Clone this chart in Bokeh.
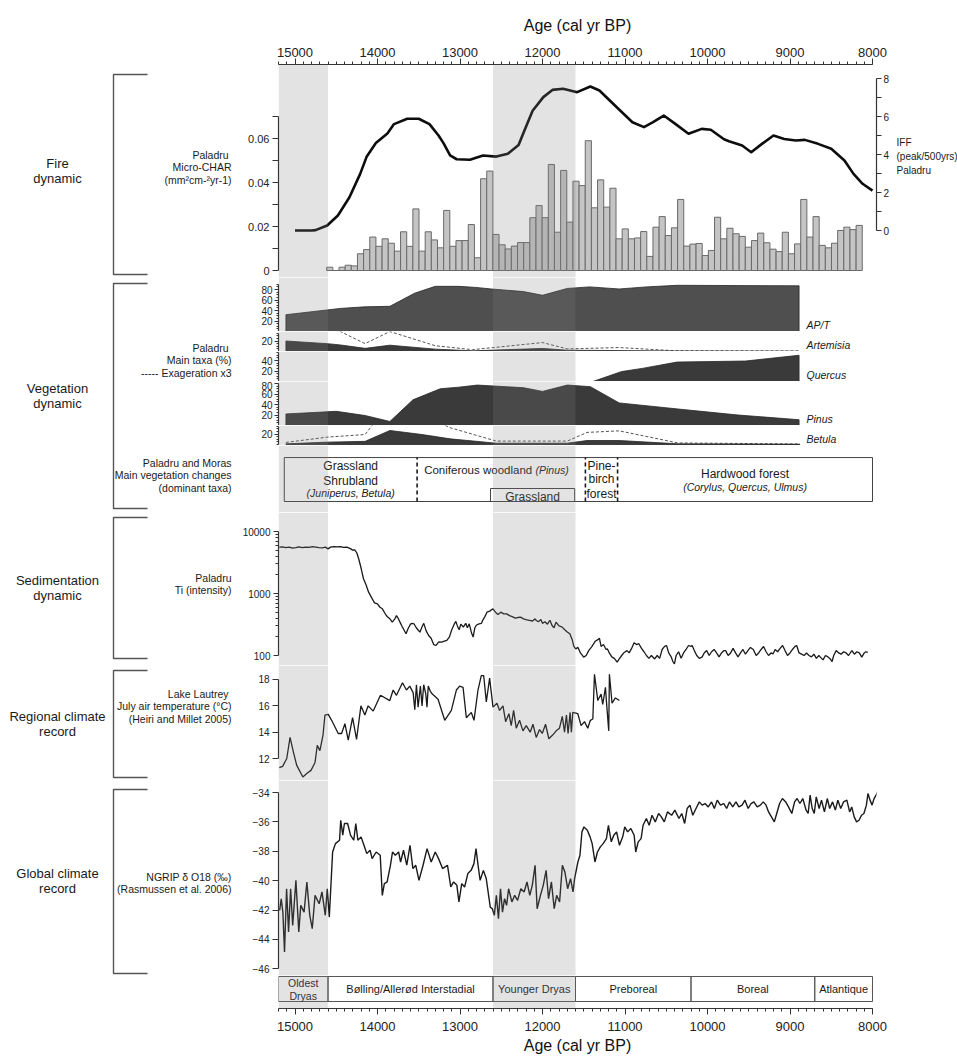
import numpy as np
from bokeh.plotting import figure
from bokeh.layouts import column, row
from bokeh.models import (Range1d, LinearAxis, LogAxis, FixedTicker, SingleIntervalTicker,
                          BoxAnnotation, BasicTickFormatter)
from bokeh.embed import file_html
from bokeh.resources import INLINE
from bokeh.core.properties import value

FONT = "Liberation Sans"
INK = "#1a1a1a"

# ============================== DATA ==============================
AGE_MAX, AGE_MIN = 15200, 8000
band_start = [15200, 12600]
band_end = [14600, 11600]

chrono_start = [15200, 14600, 12600, 11600, 10200, 8700]
chrono_end = [14600, 12600, 11600, 10200, 8700, 8000]
chrono_names = [["Oldest", "Dryas"], ["Bølling/Allerød Interstadial"], ["Younger Dryas"],
                ["Preboreal"], ["Boreal"], ["Atlantique"]]

# IFF (peak / 500 yrs)
iff_age = [15000, 14900, 14800, 14750, 14610, 14480, 14340, 14210, 14130, 14020, 13880, 13800, 13640,
           13500, 13370, 13260, 13200, 13120, 13040, 12880, 12720, 12560, 12420, 12290, 12230, 12120,
           11990, 11880, 11750, 11580, 11420, 11310, 11100, 10910, 10770, 10660, 10530, 10390, 10230,
           10070, 9960, 9800, 9740, 9580, 9470, 9340, 9200, 9070, 8930, 8820, 8660, 8500, 8340, 8230,
           8120, 8000]
iff_val = [0.0, 0.0, 0.0, 0.02, 0.26, 0.79, 1.75, 2.98, 3.9, 4.6, 5.1, 5.6, 5.88, 5.88, 5.6, 5.0, 4.6,
           3.95, 3.75, 3.72, 3.95, 3.89, 4.04, 4.5, 5.15, 6.3, 7.02, 7.4, 7.46, 7.28, 7.58, 7.37, 6.49,
           5.7, 5.44, 5.7, 6.05, 5.61, 5.09, 5.35, 5.3, 4.8, 4.7, 4.47, 4.12, 4.56, 5.0, 4.82, 4.74, 4.77,
           4.56, 4.3, 3.68, 2.98, 2.46, 2.1]

# Micro-CHAR (mm2 cm-2 yr-1), contiguous samples from old to young
char_first_age = 14616
char_last_age = 8124
char_vals = [0.0015, 0.0, 0.0015, 0.0024, 0.0021, 0.0076, 0.0095, 0.0152, 0.011, 0.0144,
             0.0124, 0.0088, 0.0176, 0.011, 0.028, 0.0088, 0.0176, 0.0139, 0.0103, 0.0273,
             0.011, 0.0136, 0.0136, 0.0209, 0.0058, 0.0417, 0.0452, 0.0164, 0.0117, 0.0098,
             0.0111, 0.0127, 0.0127, 0.024, 0.0295, 0.024, 0.0482, 0.0174, 0.0455, 0.022,
             0.0406, 0.0386, 0.059, 0.0285, 0.0412, 0.0288, 0.0374, 0.0144, 0.0189, 0.0144,
             0.0148, 0.0177, 0.0064, 0.0197, 0.0245, 0.0159, 0.0194, 0.0323, 0.0111, 0.012,
             0.0123, 0.0068, 0.0091, 0.0242, 0.0144, 0.0192, 0.0167, 0.0155, 0.0106, 0.0136,
             0.017, 0.0126, 0.0097, 0.0086, 0.0174, 0.0076, 0.0121, 0.0323, 0.0152, 0.0245,
             0.0114, 0.0103, 0.0124, 0.0182, 0.0197, 0.0186, 0.0205]

# Main taxa (%)
apt_age = [15110, 14610, 14450, 14150, 13850, 13550, 13300, 13015, 12810, 12620, 12230, 12000, 11700,
           11430, 11070, 10740, 10370, 8890]
apt_val = [32, 41, 44, 47, 48, 73, 86, 86, 84, 81, 76, 69, 82, 85, 81, 85, 88, 87]

art_age = [15110, 14610, 14450, 14150, 13850, 13300, 12850, 12000, 11700, 10400, 8890]
art_val = [20, 15, 12.5, 6, 12, 4.5, 1.3, 5.8, 2.5, 1, 0.5]
art_x3_age = [15110, 14610, 14450, 14150, 13850, 13300, 12850, 12500, 12000, 11700, 11070, 10400, 8890]
art_x3_val = [60, 45, 38, 15, 38, 11, 3.5, 9, 17, 5, 7.5, 1.5, 1]

que_age = [15110, 11390, 11040, 10790, 10370, 9540, 8890]
que_val = [0, 0, 19, 25, 37, 39, 50]

pin_age = [15110, 14500, 14150, 13850, 13570, 13240, 13015, 12790, 12230, 12000, 11700, 11420, 11070,
           10330, 9630, 8890]
pin_val = [22, 27, 19, 7.7, 49, 70, 73, 77, 72, 65, 77, 74, 43, 31, 20, 11]

bet_age = [15110, 14610, 14150, 13850, 13460, 13120, 12560, 11700, 11460, 11070, 10360, 8880]
bet_val = [1.3, 4.5, 6, 26.7, 19, 10.8, 2.5, 2.5, 7.6, 7.6, 1.3, 0.5]
bet_x3_age = [15110, 14610, 14150, 13850, 13460, 13120, 12560, 11700, 11460, 11070, 10360, 8880]
bet_x3_val = [4, 14, 19, 80, 57, 32, 6.5, 6.5, 23, 26, 3, 1]

# Main vegetation changes (zone limits, cal yr BP)
veg_zone_start = [15130, 13520, 11480, 11090]
veg_zone_end = [13520, 11480, 11090, 8000]
grass_start, grass_end = 12630, 11610

# Ti intensity
ti_record = [(15190, 5580), (15150, 5650), (15110, 5500), (15070, 5600), (15030, 5400), (14990, 5500),
             (14950, 5650), (14910, 5500), (14870, 5600), (14830, 5550), (14790, 5700), (14750, 5600),
             (14710, 5500), (14670, 5450), (14630, 5600), (14600, 5250), (14570, 5600), (14530, 5700),
             (14490, 5650), (14450, 5700), (14410, 5550), (14370, 5600), (14330, 5300), (14300, 5000),
             (14276, 5070), (14250, 4500), (14228, 3630), (14200, 2600), (14170, 1730), (14140, 1400),
             (14108, 1050), (14070, 850), (14036, 706), (14000, 680), (13970, 600), (13941, 566),
             (13910, 480), (13880, 420), (13850, 390), (13821, 345), (13790, 390), (13770, 440),
             (13750, 400), (13720, 330), (13700, 290), (13680, 260), (13654, 224), (13630, 270),
             (13600, 320), (13580, 330), (13558, 325), (13530, 280), (13510, 260), (13486, 238),
             (13460, 290), (13439, 330), (13410, 250), (13380, 210), (13350, 190), (13319, 150),
             (13290, 145), (13260, 165), (13223, 164), (13190, 170), (13160, 175), (13128, 200),
             (13100, 260), (13070, 320), (13050, 355), (13032, 300), (13010, 260), (12990, 320),
             (12960, 288), (12930, 330), (12910, 280), (12888, 324), (12860, 230), (12841, 198),
             (12820, 280), (12800, 310), (12769, 324), (12740, 330), (12720, 380), (12700, 420),
             (12673, 500), (12640, 520), (12601, 566), (12570, 500), (12540, 460), (12506, 500),
             (12470, 470), (12434, 470), (12400, 440), (12360, 420), (12330, 400), (12300, 410),
             (12267, 416), (12230, 390), (12200, 380), (12160, 370), (12120, 360), (12090, 390),
             (12075, 367), (12050, 350), (12020, 380), (12000, 330), (11970, 350), (11940, 320),
             (11910, 370), (11884, 305), (11860, 280), (11836, 345), (11800, 300), (11765, 290),
             (11730, 260), (11700, 240), (11669, 224), (11640, 180), (11620, 140), (11597, 128),
             (11570, 135), (11540, 110), (11501, 94), (11470, 100), (11440, 120), (11400, 140),
             (11360, 170), (11330, 180), (11310, 190), (11290, 140), (11260, 150), (11230, 125),
             (11214, 128), (11190, 110), (11160, 95), (11130, 90), (11095, 78), (11070, 88),
             (11040, 100), (11010, 112), (10975, 120), (10950, 110), (10920, 130), (10890, 160),
             (10860, 150), (10832, 155), (10800, 130), (10770, 115), (10740, 100), (10710, 90),
             (10680, 100), (10640, 88), (10610, 100), (10580, 90), (10550, 125), (10520, 140),
             (10497, 145), (10470, 110), (10440, 95), (10420, 80), (10401, 73), (10380, 100),
             (10350, 115), (10320, 90), (10290, 110), (10260, 125), (10230, 145), (10200, 140),
             (10186, 145), (10160, 120), (10130, 100), (10100, 90), (10066, 94), (10040, 110),
             (10010, 120), (9980, 100), (9950, 115), (9920, 125), (9890, 110), (9860, 95),
             (9830, 110), (9800, 120), (9780, 120), (9750, 100), (9720, 110), (9690, 130),
             (9660, 110), (9630, 95), (9600, 110), (9570, 125), (9540, 105), (9510, 120),
             (9480, 135), (9445, 125), (9410, 100), (9380, 110), (9350, 125), (9320, 140),
             (9290, 115), (9260, 100), (9230, 110), (9206, 106), (9180, 125), (9150, 115),
             (9120, 130), (9090, 145), (9060, 120), (9030, 100), (9000, 110), (8970, 125),
             (8940, 140), (8919, 145), (8890, 110), (8860, 105), (8830, 100), (8800, 110),
             (8770, 100), (8740, 95), (8710, 105), (8680, 90), (8650, 100), (8632, 94), (8600, 85),
             (8570, 100), (8540, 95), (8512, 88), (8490, 80), (8470, 100), (8440, 120), (8410, 110),
             (8380, 105), (8350, 115), (8320, 110), (8290, 100), (8260, 115), (8249, 120),
             (8220, 105), (8190, 115), (8160, 110), (8130, 94), (8100, 110), (8080, 115), (8058, 112)]

# Lake Lautrey July air temperature (deg C)
lautrey_record = [(15190, 11.3), (15150, 11.4), (15100, 12.0), (15060, 13.6), (15020, 12.5),
                  (14980, 11.5), (14905, 10.6), (14850, 10.9), (14806, 11.1), (14757, 11.7),
                  (14730, 13.0), (14698, 12.6), (14660, 13.8), (14637, 15.3), (14597, 15.35),
                  (14556, 14.9), (14476, 13.9), (14435, 13.9), (14395, 14.65), (14355, 13.4),
                  (14302, 15.1), (14254, 13.45), (14201, 16.0), (14153, 15.3), (14113, 16.0),
                  (14052, 15.6), (13964, 16.8), (13851, 16.4), (13810, 17.2), (13770, 16.8),
                  (13697, 17.75), (13649, 17.2), (13609, 17.5), (13568, 17.0), (13548, 15.7),
                  (13528, 17.6), (13508, 15.9), (13480, 17.5), (13460, 16.0), (13440, 17.6),
                  (13415, 16.9), (13400, 15.9), (13385, 17.5), (13360, 17.1), (13335, 16.9),
                  (13266, 16.5), (13185, 14.9), (13105, 15.65), (13044, 17.2), (13004, 17.5),
                  (12963, 17.4), (12923, 15.1), (12863, 15.5), (12830, 14.9), (12782, 17.2),
                  (12742, 18.3), (12713, 18.3), (12681, 16.3), (12641, 18.1), (12600, 15.9),
                  (12552, 16.2), (12520, 15.65), (12479, 16.0), (12447, 14.8), (12407, 15.4),
                  (12379, 14.5), (12350, 15.65), (12318, 14.3), (12278, 14.9), (12237, 14.1),
                  (12197, 14.5), (12149, 14.0), (12116, 14.6), (12076, 13.6), (12036, 14.2),
                  (12003, 13.9), (11963, 14.6), (11923, 13.5), (11874, 13.8), (11834, 14.1),
                  (11794, 14.3), (11760, 15.2), (11733, 14.0), (11710, 15.3), (11690, 13.9),
                  (11665, 15.5), (11650, 14.0), (11633, 15.5), (11572, 15.4), (11532, 14.5),
                  (11491, 14.8), (11451, 14.3), (11420, 14.9), (11390, 15.0), (11370, 18.4),
                  (11330, 16.4), (11290, 16.9), (11270, 16.1), (11237, 17.4), (11221, 16.0),
                  (11197, 14.1), (11189, 18.4), (11157, 16.2), (11116, 16.6), (11068, 16.4)]

# NGRIP delta O18 (permil)
ngrip_record = [(15186, -42.02), (15167, -41.23), (15147, -42.14), (15127, -44.86), (15102, -40.55),
                (15078, -43.5), (15053, -40.55), (15028, -43.05), (14989, -39.98), (14954, -43.5),
                (14930, -41.68), (14890, -42.14), (14856, -40.09), (14821, -42.36), (14791, -43.27),
                (14757, -41.0), (14707, -41.57), (14673, -40.77), (14633, -42.36), (14609, -40.55),
                (14584, -42.48), (14544, -38.05), (14510, -37.48), (14460, -37.25), (14446, -35.89),
                (14421, -36.9), (14401, -36.11), (14362, -36.11), (14327, -36.9), (14288, -37.25),
                (14263, -36.11), (14238, -37.25), (14199, -37.02), (14164, -37.59), (14130, -38.16),
                (14090, -37.93), (14065, -38.5), (14016, -38.05), (13967, -38.27), (13942, -41.0),
                (13917, -40.2), (13883, -40.09), (13843, -38.95), (13818, -38.05), (13784, -38.27),
                (13744, -38.05), (13720, -38.73), (13685, -37.93), (13645, -38.95), (13606, -37.59),
                (13571, -39.18), (13537, -38.95), (13497, -39.98), (13448, -38.95), (13399, -37.82),
                (13349, -38.73), (13300, -38.05), (13260, -38.5), (13211, -39.18), (13152, -38.95),
                (13112, -40.43), (13077, -40.09), (13038, -40.32), (13013, -41.45), (12979, -40.2),
                (12944, -40.43), (12905, -39.52), (12865, -39.3), (12831, -38.84), (12806, -37.82),
                (12781, -38.95), (12756, -39.98), (12717, -39.3), (12682, -39.86), (12633, -41.8),
                (12608, -41.91), (12584, -42.36), (12559, -41.0), (12534, -42.59), (12509, -40.55),
                (12485, -42.14), (12460, -41.23), (12435, -41.68), (12411, -40.55), (12371, -41.45),
                (12337, -41.0), (12302, -41.34), (12263, -40.55), (12223, -40.77), (12188, -40.09),
                (12154, -41.0), (12124, -40.32), (12090, -38.95), (12065, -41.91), (12025, -41.0),
                (11991, -40.32), (11956, -39.3), (11927, -41.23), (11892, -40.09), (11858, -41.91),
                (11828, -41.0), (11793, -41.45), (11759, -38.95), (11729, -39.41), (11695, -40.55),
                (11660, -39.86), (11630, -40.77), (11611, -39.86), (11571, -38.73), (11546, -38.27),
                (11522, -36.68), (11497, -36.34), (11457, -36.57), (11423, -37.02), (11398, -37.48),
                (11364, -38.73), (11334, -38.05), (11299, -37.7), (11265, -37.48), (11225, -37.14),
                (11201, -36.23), (11166, -37.36), (11136, -36.91), (11102, -36.68), (11067, -37.59),
                (11028, -37.02), (11003, -36.34), (10968, -36.68), (10929, -36.45), (10889, -36.91),
                (10870, -38.05), (10840, -37.36), (10805, -37.14), (10781, -36.23), (10741, -35.77),
                (10707, -36.23), (10672, -35.55), (10633, -36.0), (10593, -35.43), (10559, -35.66),
                (10524, -36.0), (10485, -35.32), (10435, -35.55), (10396, -35.2), (10346, -35.77),
                (10312, -35.43), (10277, -36.11), (10247, -35.09), (10213, -34.86), (10178, -35.55),
                (10139, -35.09), (10099, -34.64), (10065, -34.86), (10030, -34.75), (9991, -34.98),
                (9951, -34.64), (9917, -35.09), (9882, -34.52), (9843, -34.86), (9803, -34.75),
                (9768, -35.09), (9734, -34.64), (9694, -34.98), (9655, -34.64), (9620, -34.98),
                (9581, -34.86), (9546, -34.52), (9507, -35.09), (9472, -34.75), (9438, -34.64),
                (9398, -34.98), (9359, -34.86), (9324, -34.64), (9290, -34.86), (9260, -35.32),
                (9225, -35.66), (9190, -36.0), (9161, -35.43), (9126, -34.75), (9092, -34.41),
                (9052, -34.64), (9018, -34.98), (8978, -35.43), (8944, -34.64), (8914, -34.41),
                (8880, -34.75), (8845, -34.41), (8805, -35.2), (8780, -35.43), (8756, -34.18),
                (8731, -35.09), (8706, -35.43), (8682, -34.3), (8647, -35.09), (8618, -34.52),
                (8583, -35.32), (8548, -34.41), (8519, -35.09), (8484, -34.64), (8450, -35.2),
                (8420, -34.52), (8385, -35.09), (8351, -34.64), (8311, -34.52), (8277, -35.32),
                (8252, -34.98), (8222, -35.66), (8193, -36.0), (8163, -35.89), (8133, -35.55),
                (8104, -35.43), (8074, -34.86), (8055, -34.07), (8030, -34.52), (8005, -34.86),
                (7981, -34.41), (7956, -34.18), (7916, -33.61)]

# ============================== LAYOUT ==============================
TOTAL_H = 1057
LEFT_W = 236          # label column (left)
LB = 42               # left border of the panel figures
RB = 17               # right border of the panel figures
PX_PER_YR = 594 / (AGE_MAX - AGE_MIN)
FRAME_W = 598         # frames run a little past 8000 so the NGRIP tail shows
X_END = AGE_MAX - FRAME_W / PX_PER_YR
PANEL_W = LB + FRAME_W + RB
RIGHT_W = 957 - LEFT_W - PANEL_W


def panel(height, y_range, top=0, bottom=0, y_axis_type="linear", **kw):
    p = figure(width=PANEL_W, height=height, x_range=Range1d(AGE_MAX, X_END), y_range=y_range,
               y_axis_type=y_axis_type, x_axis_location=None, y_axis_location=None,
               toolbar_location=None, output_backend="svg",
               min_border_left=LB, min_border_right=RB,
               min_border_top=top, min_border_bottom=bottom,
               outline_line_color=None, background_fill_color="white",
               border_fill_color="white", **kw)
    p.grid.visible = False
    for a, b in zip(band_start, band_end):
        p.add_layout(BoxAnnotation(left=a, right=b, fill_color="#808080", fill_alpha=0.22,
                                   line_color=None))
    return p


def style_axis(ax, fs="10px", tick_out=5, minor_out=3):
    ax.axis_line_color = "#333333"
    ax.axis_line_width = 1.2
    ax.major_tick_line_color = "#333333"
    ax.minor_tick_line_color = "#333333"
    ax.major_tick_in = 0
    ax.minor_tick_in = 0
    ax.major_tick_out = tick_out
    ax.minor_tick_out = minor_out
    ax.major_label_text_font = FONT
    ax.major_label_text_font_size = fs
    ax.major_label_text_color = "#222222"
    ax.major_label_standoff = 3
    return ax


def txt(p, x, y, s, size="12px", align="center", style="normal", color=INK, **kw):
    p.text(x=[x], y=[y], text=[s], text_font=value(FONT), text_font_size=size,
           text_align=align, text_baseline="middle", text_font_style=style,
           text_color=color, **kw)


def time_axis(label):
    ax = LinearAxis(ticker=SingleIntervalTicker(interval=1000, num_minor_ticks=10),
                    axis_label=label, bounds=(AGE_MIN, AGE_MAX),
                    formatter=BasicTickFormatter(use_scientific=False))
    style_axis(ax, "13px", 6, 3)
    ax.axis_label_text_font = FONT
    ax.axis_label_text_font_size = "16px"
    ax.axis_label_text_font_style = "normal"
    ax.axis_label_text_color = "#111111"
    return ax


figs = []

# ---------------- Fire dynamic ----------------
CHAR_PX = 2200.0   # px per unit of CHAR
IFF_PX = 19.0      # px per IFF unit
fire = panel(277, Range1d(-7 / CHAR_PX, 206 / CHAR_PX), top=64,
             extra_y_ranges={"iff": Range1d(-47 / IFF_PX, 166 / IFF_PX)})
top_ax = time_axis("Age (cal yr BP)")
top_ax.major_label_standoff = 2
top_ax.axis_label_standoff = 11
fire.add_layout(top_ax, "above")

char_ax = LinearAxis(bounds=(0, 0.07),
                     ticker=FixedTicker(ticks=[0, 0.02, 0.04, 0.06], minor_ticks=[0.01, 0.03, 0.05, 0.07]),
                     major_label_overrides={0: "0", 0.02: "0.02", 0.04: "0.04", 0.06: "0.06"})
style_axis(char_ax, "11px", 6, 6)
fire.add_layout(char_ax, "left")
iff_ax = LinearAxis(y_range_name="iff", bounds=(0, 8),
                    ticker=FixedTicker(ticks=[0, 2, 4, 6, 8], minor_ticks=[1, 3, 5, 7]))
style_axis(iff_ax, "10px", 5, 5)
iff_ax.major_label_standoff = 2
fire.add_layout(iff_ax, "right")

char_w = (char_first_age - char_last_age) / len(char_vals)
char_centers = [char_first_age - (i + 0.5) * char_w for i in range(len(char_vals))]
fire.vbar(x=char_centers, width=char_w, top=char_vals, bottom=0, fill_color="#c4c4c4",
          line_color="#6a6a6a", line_width=1)
fire.line(iff_age, iff_val, y_range_name="iff", line_color="#0d0d0d", line_width=2.6,
          line_join="round")
figs.append(fire)

# ---------------- Vegetation (main taxa) ----------------
VEG_PX = 0.525  # px per percent


def veg_panel(h, base_off, bound_top, majors, age, val, name, fill, x3_age=None, x3_val=None):
    p = panel(h, Range1d(-base_off / VEG_PX, (h - base_off) / VEG_PX))
    ax = LinearAxis(bounds=(0, bound_top),
                    ticker=FixedTicker(ticks=majors, minor_ticks=list(range(0, bound_top + 1, 5))))
    style_axis(ax, "10px", 4, 2)
    ax.major_label_standoff = 2
    p.add_layout(ax, "left")
    if x3_age is not None:
        p.line(x3_age, x3_val, line_color="#555555", line_width=1, line_dash="3 2")
    xs = [age[0]] + list(age) + [age[-1]]
    ys = [0] + list(val) + [0]
    p.patch(xs, ys, fill_color=fill, line_color="#262626", line_width=0.8)
    # name sits just above the frame bottom
    txt(p, 8800, (6.5 - base_off) / VEG_PX, name, size="10.5px", align="left", style="italic")
    return p


figs.append(veg_panel(54, 0, 90, [20, 40, 60, 80], apt_age, apt_val, "AP/T", "#4f4f4f"))
figs.append(veg_panel(20, 0, 35, [20], art_age, art_val, "Artemisia", "#3a3a3a",
                      art_x3_age, art_x3_val))
figs.append(veg_panel(30, 0, 55, [20, 40], que_age, que_val, "Quercus", "#3a3a3a"))
figs.append(veg_panel(44, 0, 80, [20, 40, 60, 80], pin_age, pin_val, "Pinus", "#3a3a3a"))
figs.append(veg_panel(20, 1, 35, [20], bet_age, bet_val, "Betula", "#3a3a3a",
                      bet_x3_age, bet_x3_val))

# ---------------- Vegetation changes box ----------------
vb = panel(67, Range1d(0, 1))
B0, B1 = 0.164, 0.82
vb.quad(left=[veg_zone_start[0]], right=[veg_zone_end[-1]], bottom=[B0], top=[B1],
        fill_alpha=0, line_color="#444444", line_width=1)
vb.segment(x0=veg_zone_start[1:], y0=[B0] * 3, x1=veg_zone_start[1:], y1=[B1] * 3,
           line_color=INK, line_width=1.6, line_dash="4 3")
vb.quad(left=[grass_start], right=[grass_end], bottom=[B0], top=[0.358], fill_alpha=0,
        line_color="#444444", line_width=1)
c0 = (veg_zone_start[0] + veg_zone_end[0]) / 2
txt(vb, c0, 0.687, "Grassland")
txt(vb, c0, 0.463, "Shrubland")
txt(vb, c0, 0.284, "(Juniperus, Betula)", size="10.5px", style="italic")
txt(vb, 12125, 0.627, "Coniferous woodland", size="11.5px", align="right")
txt(vb, 12085, 0.627, "(Pinus)", size="10.5px", align="left", style="italic")
txt(vb, (grass_start + grass_end) / 2, 0.224, "Grassland")
c2 = (veg_zone_start[2] + veg_zone_end[2]) / 2
txt(vb, c2, 0.701, "Pine-")
txt(vb, c2, 0.493, "birch")
txt(vb, c2, 0.269, "forest")
c3 = (veg_zone_start[3] + veg_zone_end[3]) / 2
txt(vb, c3, 0.582, "Hardwood forest")
txt(vb, c3, 0.388, "(Corylus, Quercus, Ulmus)", size="10.5px", style="italic")
figs.append(vb)

# ---------------- Sedimentation ----------------
sed = panel(153, Range1d(10 ** (2 - 10 / 62.0), 10 ** (4 + 19 / 62.0)), y_axis_type="log")
sed_ax = LogAxis(bounds=(100, 10000),
                 ticker=FixedTicker(ticks=[100, 1000, 10000],
                                    minor_ticks=[k * 100 for k in range(2, 10)] + [k * 1000 for k in range(2, 10)]),
                 formatter=BasicTickFormatter(use_scientific=False))
style_axis(sed_ax, "10px", 5, 3)
sed.add_layout(sed_ax, "left")
sed.line([a for a, _ in ti_record], [v for _, v in ti_record], line_color=INK, line_width=1.3)
figs.append(sed)

# ---------------- Regional climate ----------------
LAU_PX = 13.17
lau = panel(115, Range1d(12 - 22 / LAU_PX, 18 + 14 / LAU_PX))
lau_ax = LinearAxis(bounds=(12, 18), ticker=FixedTicker(ticks=[12, 14, 16, 18], minor_ticks=[]))
style_axis(lau_ax, "10px", 6, 0)
lau.add_layout(lau_ax, "left")
lau.line([a for a, _ in lautrey_record], [v for _, v in lautrey_record], line_color=INK,
         line_width=1.3)
figs.append(lau)

# ---------------- Global climate ----------------
NG_PX = 14.69
glo = panel(195, Range1d(-46 - 6.7 / NG_PX, -34 + 12 / NG_PX))
glo_ax = LinearAxis(bounds=(-46, -34),
                    ticker=FixedTicker(ticks=[-46, -44, -42, -40, -38, -36, -34], minor_ticks=[]))
style_axis(glo_ax, "10px", 6, 0)
glo.add_layout(glo_ax, "left")
glo.line([a for a, _ in ngrip_record], [v for _, v in ngrip_record], line_color=INK,
         line_width=1.4)
figs.append(glo)

# ---------------- Chronozones + bottom axis ----------------
chr_f = panel(82, Range1d(0, 1), bottom=49)
CB0, CB1 = 0.212, 0.97
chr_f.quad(left=chrono_start, right=chrono_end, bottom=[CB0] * 6, top=[CB1] * 6,
           fill_alpha=0, line_color="#555555", line_width=1)
for a, b, names in zip(chrono_start, chrono_end, chrono_names):
    c = (a + b) / 2
    if len(names) == 2:
        txt(chr_f, c, 0.78, names[0], size="10.5px")
        txt(chr_f, c, 0.39, names[1], size="10.5px")
    else:
        txt(chr_f, c, 0.59, names[0], size="11px")
bot_ax = time_axis("Age (cal yr BP)")
bot_ax.major_label_standoff = 7
bot_ax.axis_label_standoff = 3
chr_f.add_layout(bot_ax, "below")
figs.append(chr_f)


def label_column(width):
    f = figure(width=width, height=TOTAL_H, x_range=Range1d(0, width), y_range=Range1d(TOTAL_H, 0),
               toolbar_location=None, output_backend="svg", x_axis_location=None,
               y_axis_location=None, min_border=0, outline_line_color=None)
    f.grid.visible = False
    return f


# ---------------- Left label column ----------------
lf = label_column(LEFT_W)
brackets = [(74, 274), (283, 508), (517, 658), (670, 777), (789, 973)]
lf.multi_line([[147, 113, 113, 147] for _ in brackets], [[t, t, b, b] for t, b in brackets],
              line_color="#555555", line_width=1.4)

groups = [(["Fire", "dynamic"], 163), (["Vegetation", "dynamic"], 388),
          (["Sedimentation", "dynamic"], 580), (["Regional climate", "record"], 716),
          (["Global climate", "record"], 873)]
for lines, y0 in groups:
    for k, s in enumerate(lines):
        txt(lf, 57, y0 + 15 * k, s, size="13px")

panel_labels = [(["Paladru ", "Micro-CHAR", "(mm²cm-²yr-1)"], 154),
                (["Paladru ", "Main taxa (%)", "----- Exageration x3"], 347),
                (["Paladru and Moras", "Main vegetation changes", "(dominant taxa)"], 462),
                (["Paladru", "Ti (intensity)"], 577),
                (["Lake Lautrey ", "July air temperature (°C)", "(Heiri and Millet 2005)"], 693),
                (["NGRIP δ O18 (‰)", "(Rasmussen et al. 2006)"], 876)]
for lines, y0 in panel_labels:
    for k, s in enumerate(lines):
        txt(lf, 231, y0 + 12.5 * k, s, size="10.5px", align="right")

# ---------------- Right label column (IFF caption) ----------------
rf = label_column(RIGHT_W)
x_cap = 896 - (LEFT_W + PANEL_W)
for k, s in enumerate(["IFF", "(peak/500yrs)", "Paladru"]):
    txt(rf, x_cap, 142 + 14 * k, s, size="10px", align="left")

layout = row(lf, column(*figs, spacing=0), rf, spacing=0)
open("out.html", "w").write(file_html(layout, INLINE))
